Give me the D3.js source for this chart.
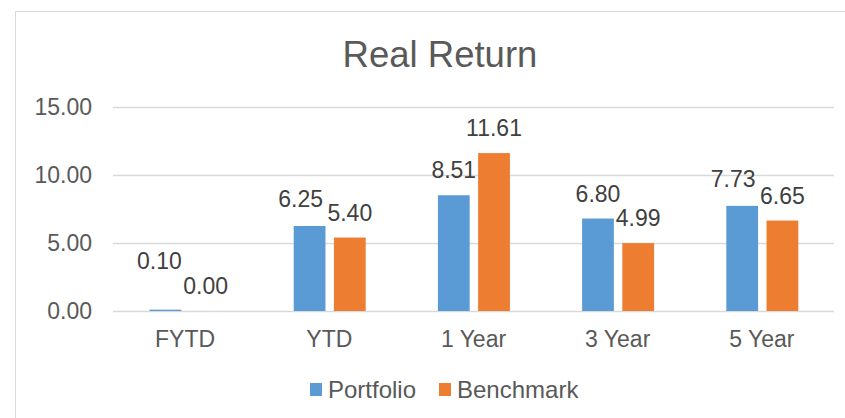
<!DOCTYPE html>
<html>
<head>
<meta charset="utf-8">
<script src="https://cdn.jsdelivr.net/npm/d3@7"></script>
<style>
  body { margin: 0; background: #fff; }
  text { font-family: Arial, "Liberation Sans", sans-serif; }
</style>
</head>
<body>
<div id="chart"></div>
<script>
// chart data
var categories = ["FYTD", "YTD", "1 Year", "3 Year", "5 Year"];
var seriesNames = ["Portfolio", "Benchmark"];
var portfolio = [0.10, 6.25, 8.51, 6.80, 7.73];
var benchmark = [0.00, 5.40, 11.61, 4.99, 6.65];
var yTicks = [0, 5, 10, 15];
var colors = ["#5B9BD5", "#ED7D31"];

var svgWidth = 845;
var svgHeight = 418;

var margin = { top: 107, right: 11, bottom: 107, left: 113 };
var width = svgWidth - margin.left - margin.right;
var height = svgHeight - margin.top - margin.bottom;

var svg = d3.select("#chart")
  .append("svg")
  .attr("width", svgWidth)
  .attr("height", svgHeight);

// chart frame (runs past the right/bottom edge like the original)
svg.append("rect")
  .attr("x", 15.5)
  .attr("y", 11.5)
  .attr("width", 860)
  .attr("height", 430)
  .attr("fill", "#fff")
  .attr("stroke", "#d9d9d9");

svg.append("text")
  .attr("x", 440)
  .attr("y", 67)
  .attr("text-anchor", "middle")
  .attr("font-size", 36.5)
  .attr("fill", "#595959")
  .text("Real Return");

var chartGroup = svg.append("g")
  .attr("transform", `translate(${margin.left}, ${margin.top})`);

var x0 = d3.scaleBand()
  .domain(categories)
  .range([0, width])
  .padding(0);

var x1 = d3.scaleBand()
  .domain(seriesNames)
  .range([36.5, 108.5])
  .paddingInner(0.21);

var y = d3.scaleLinear()
  .domain([0, 15])
  .range([height, 0]);

// gridlines
chartGroup.append("g")
  .selectAll("line")
  .data(yTicks)
  .enter()
  .append("line")
  .attr("x1", 0)
  .attr("x2", width)
  .attr("y1", d => Math.round(y(d)) + 0.5)
  .attr("y2", d => Math.round(y(d)) + 0.5)
  .attr("stroke", "#d9d9d9")
  .attr("stroke-width", 1.3);

// y axis labels
var leftAxis = d3.axisLeft(y)
  .tickValues(yTicks)
  .tickFormat(d3.format(".2f"))
  .tickSize(0)
  .tickPadding(21);

var yAxis = chartGroup.append("g").call(leftAxis);
yAxis.select(".domain").remove();
yAxis.selectAll("text")
  .attr("font-size", 23)
  .attr("fill", "#595959")
  .attr("font-family", "Arial, 'Liberation Sans', sans-serif");

// x axis labels
var bottomAxis = d3.axisBottom(x0).tickSize(0).tickPadding(20);
var xAxis = chartGroup.append("g")
  .attr("transform", `translate(0, ${height})`)
  .call(bottomAxis);
xAxis.select(".domain").remove();
xAxis.selectAll("text")
  .attr("font-size", 23)
  .attr("fill", "#595959")
  .attr("font-family", "Arial, 'Liberation Sans', sans-serif");

// bars
var rows = categories.map(function(c, i) {
  return {
    cat: c,
    values: [
      { name: seriesNames[0], value: portfolio[i], color: colors[0] },
      { name: seriesNames[1], value: benchmark[i], color: colors[1] }
    ]
  };
});

var groups = chartGroup.selectAll(".cat")
  .data(rows)
  .enter()
  .append("g")
  .attr("class", "cat")
  .attr("transform", d => `translate(${x0(d.cat)}, 0)`);

groups.selectAll("rect")
  .data(d => d.values)
  .enter()
  .append("rect")
  .attr("x", d => x1(d.name))
  .attr("y", d => y(d.value))
  .attr("width", x1.bandwidth())
  .attr("height", d => height - y(d.value))
  .attr("fill", d => d.color);

// data labels, nudged apart when the pair would collide (like Excel does)
groups.each(function(d) {
  var g = d3.select(this);
  var pos = d.values.map(function(v) {
    return { x: x1(v.name) + x1.bandwidth() / 2, y: y(v.value) - 17, v: v };
  });
  var diff = pos[1].y - pos[0].y;
  if (Math.abs(diff) < 4) {
    pos[0].y -= 24;
    pos[0].x -= 6;
  } else if (diff > 0 && diff < 20) {
    pos[0].x -= 9;
    pos[0].y -= 2;
  }
  pos.forEach(function(p) {
    g.append("text")
      .attr("x", p.x)
      .attr("y", p.y)
      .attr("text-anchor", "middle")
      .attr("font-size", 23)
      .attr("fill", "#404040")
      .text(p.v.value.toFixed(2));
  });
});

// legend
var legend = svg.append("g")
  .attr("transform", "translate(310, 383)");

var legendX = [0, 129];
seriesNames.forEach(function(name, i) {
  legend.append("rect")
    .attr("x", legendX[i])
    .attr("y", 0)
    .attr("width", 12)
    .attr("height", 13)
    .attr("fill", colors[i]);
  legend.append("text")
    .attr("x", legendX[i] + 18)
    .attr("y", 15)
    .attr("font-size", 24)
    .attr("fill", "#595959")
    .text(name);
});
</script>
</body>
</html>
